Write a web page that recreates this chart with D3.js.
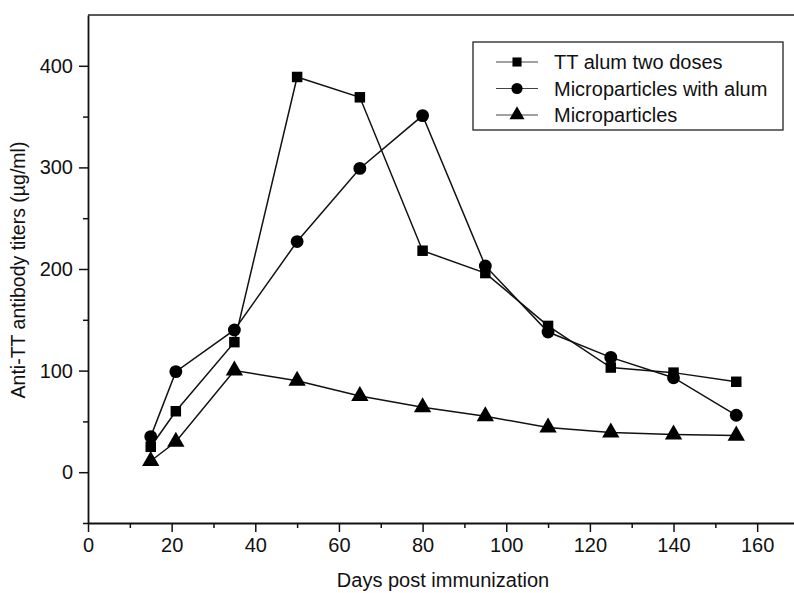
<!DOCTYPE html>
<html>
<head>
<meta charset="utf-8">
<script src="https://cdn.jsdelivr.net/npm/d3@7"></script>
<style>
  body { margin: 0; background: #fff; }
  text { font-family: "Liberation Sans", Arial, sans-serif; fill: #111; }
</style>
</head>
<body>
<svg id="chart" width="794" height="593"></svg>
<script>
// days post immunization
const days = [15, 21, 35, 50, 65, 80, 95, 110, 125, 140, 155];
// antibody titers (ug/ml)
const ttAlum = [25, 60, 128, 389, 369, 218, 196, 144, 103, 98, 89];
const microAlum = [35, 99, 140, 227, 299, 351, 203, 138, 113, 93, 56];
const micro = [11, 30, 100, 90, 75, 64, 55, 44, 39, 37, 36];

const seriesNames = ["TT alum two doses", "Microparticles with alum", "Microparticles"];
const seriesValues = [ttAlum, microAlum, micro];
const seriesSymbols = [d3.symbolSquare, d3.symbolCircle, d3.symbolTriangle];
const symbolSizes = [110, 130, 130];

const xTicks = [0, 20, 40, 60, 80, 100, 120, 140, 160];
const yTicks = [0, 100, 200, 300, 400];

const svg = d3.select("#chart");

const xScale = d3.scaleLinear().domain([0, 170]).range([88, 799]);
const yScale = d3.scaleLinear().domain([-50, 450]).range([523, 15]);

// top frame line
svg.append("line")
  .attr("x1", 88).attr("x2", 794)
  .attr("y1", 15).attr("y2", 15)
  .attr("stroke", "#222").attr("stroke-width", 1.3);

// minor ticks
svg.append("g")
  .attr("transform", "translate(0,523)")
  .call(d3.axisBottom(xScale).tickValues(d3.range(10, 170, 20)).tickSize(5).tickFormat(""))
  .call(g => g.select(".domain").remove())
  .selectAll("line").attr("stroke", "#111").attr("stroke-width", 1.5);

svg.append("g")
  .attr("transform", "translate(88,0)")
  .call(d3.axisLeft(yScale).tickValues([-50, 50, 150, 250, 350]).tickSize(5).tickFormat(""))
  .call(g => g.select(".domain").remove())
  .selectAll("line").attr("stroke", "#111").attr("stroke-width", 1.5);

// x axis
const xAxis = svg.append("g")
  .attr("transform", "translate(0,523)")
  .call(d3.axisBottom(xScale).tickValues(xTicks).tickSize(9).tickPadding(6).tickSizeOuter(0));
xAxis.select(".domain").attr("stroke", "#111").attr("stroke-width", 1.8)
  .attr("d", "M88,0.5H794");
xAxis.selectAll("line").attr("stroke", "#111").attr("stroke-width", 1.5);
xAxis.selectAll("text").attr("font-size", 20).style("font-family", "Liberation Sans, Arial, sans-serif");

// y axis
const yAxis = svg.append("g")
  .attr("transform", "translate(88,0)")
  .call(d3.axisLeft(yScale).tickValues(yTicks).tickSize(9).tickPadding(6).tickSizeOuter(0));
yAxis.select(".domain").attr("stroke", "#111").attr("stroke-width", 1.8);
yAxis.selectAll("line").attr("stroke", "#111").attr("stroke-width", 1.5);
yAxis.selectAll("text").attr("font-size", 20).style("font-family", "Liberation Sans, Arial, sans-serif");

// axis titles
svg.append("text")
  .attr("x", 443).attr("y", 587)
  .attr("text-anchor", "middle")
  .attr("font-size", 20)
  .text("Days post immunization");

svg.append("text")
  .attr("transform", "translate(25,270) rotate(-90)")
  .attr("text-anchor", "middle")
  .attr("font-size", 19.5)
  .text("Anti-TT antibody titers (\u00b5g/ml)");

// lines and markers
const line = d3.line()
  .x(function (d) { return xScale(d[0]); })
  .y(function (d) { return yScale(d[1]); });

seriesValues.forEach(function (vals, i) {
  const pts = days.map(function (d, j) { return [d, vals[j]]; });
  svg.append("path")
    .datum(pts)
    .attr("fill", "none")
    .attr("stroke", "#111")
    .attr("stroke-width", 1.5)
    .attr("d", line);

  svg.append("g")
    .selectAll("path")
    .data(pts)
    .enter()
    .append("path")
    .attr("transform", function (d) { return "translate(" + xScale(d[0]) + "," + yScale(d[1]) + ")"; })
    .attr("d", d3.symbol().type(seriesSymbols[i]).size(symbolSizes[i]))
    .attr("fill", "#000");
});

// legend
const legend = svg.append("g");
legend.append("rect")
  .attr("x", 473).attr("y", 42)
  .attr("width", 310).attr("height", 88)
  .attr("fill", "#fff")
  .attr("stroke", "#222").attr("stroke-width", 1.3);

seriesNames.forEach(function (name, i) {
  const y = 62 + i * 26.5;
  legend.append("line")
    .attr("x1", 496).attr("x2", 538)
    .attr("y1", y).attr("y2", y)
    .attr("stroke", "#444").attr("stroke-width", 1.1);
  legend.append("path")
    .attr("transform", "translate(517," + y + ")")
    .attr("d", d3.symbol().type(seriesSymbols[i]).size(symbolSizes[i] * 0.75))
    .attr("fill", "#000");
  legend.append("text")
    .attr("x", 554).attr("y", y + 7)
    .attr("font-size", 20)
    .text(name);
});
</script>
</body>
</html>
